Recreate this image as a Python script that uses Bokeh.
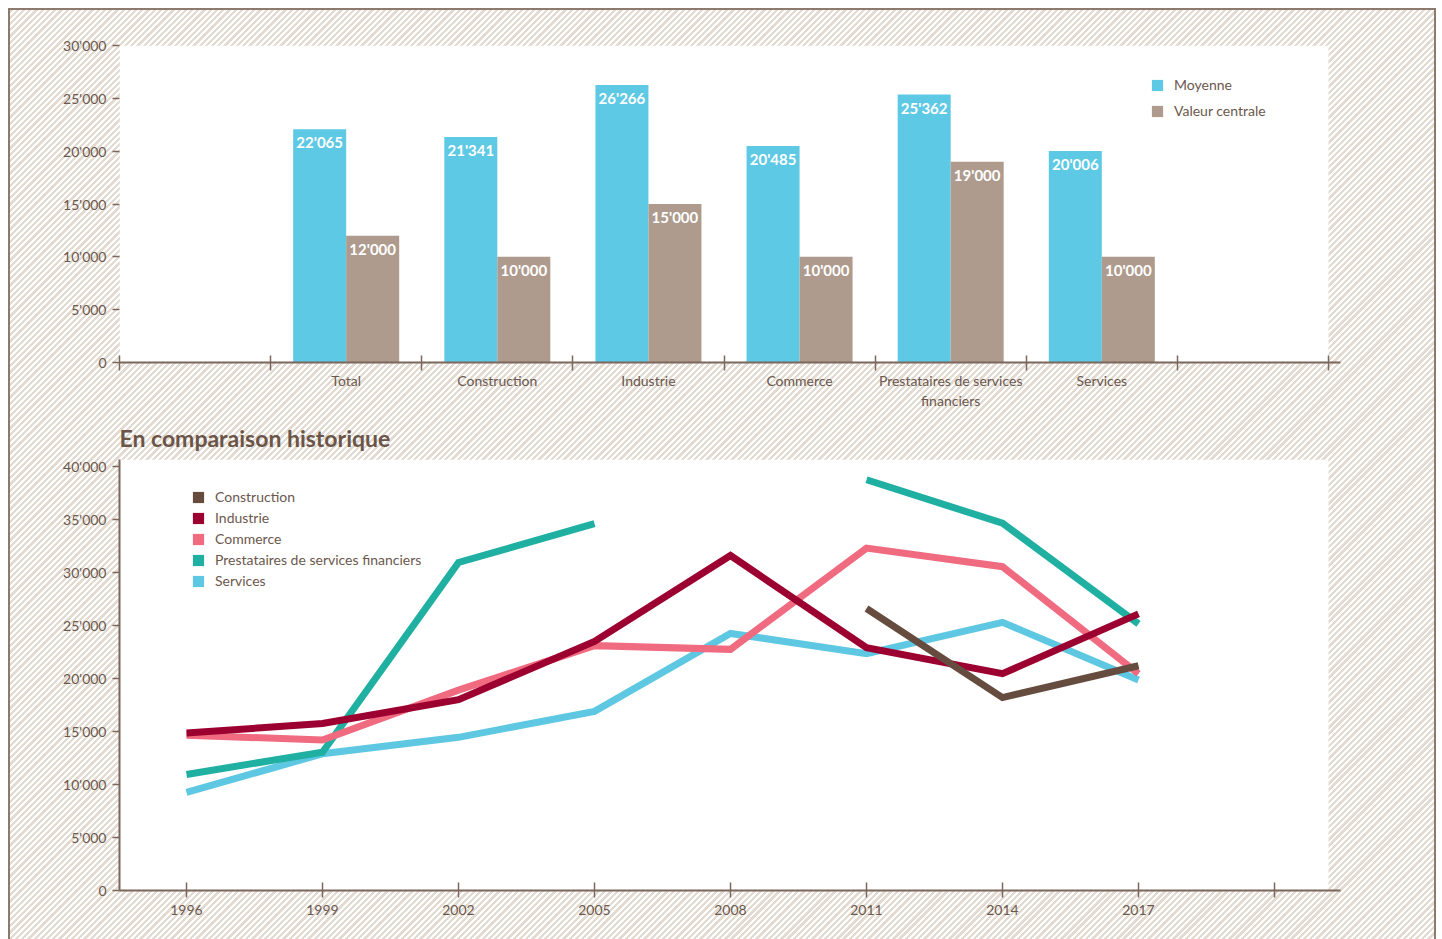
import numpy as np
from bokeh.plotting import figure
from bokeh.models import (FixedTicker, CustomJSTickFormatter, BoxAnnotation, Legend,
                          LegendItem, Range1d)
from bokeh.layouts import column
from bokeh.embed import file_html
from bokeh.resources import INLINE
from bokeh.core.properties import value

# ---------------- data ----------------
categories = ["Total", "Construction", "Industrie", "Commerce",
              "Prestataires de services\nfinanciers", "Services"]
bar_series = ["Moyenne", "Valeur centrale"]
moyenne = [22065, 21341, 26266, 20485, 25362, 20006]
valeur_centrale = [12000, 10000, 15000, 10000, 19000, 10000]
y_ticks_top = [0, 5000, 10000, 15000, 20000, 25000, 30000]

years = [1996, 1999, 2002, 2005, 2008, 2011, 2014, 2017]
x_ticks_bottom = [1996, 1999, 2002, 2005, 2008, 2011, 2014, 2017, 2020]
y_ticks_bottom = [0, 5000, 10000, 15000, 20000, 25000, 30000, 35000, 40000]
line_names = ["Construction", "Industrie", "Commerce",
              "Prestataires de services financiers", "Services"]
construction = [np.nan, np.nan, np.nan, np.nan, np.nan, 26600, 18200, 21200]
industrie = [14850, 15750, 18000, 23500, 31600, 22900, 20450, 26100]
commerce = [14650, 14200, 18900, 23100, 22750, 32300, 30550, 20450]
prestataires = [10950, 13050, 30950, 34600, np.nan, 38750, 34650, 25150]
services = [9250, 12900, 14450, 16900, 24250, 22350, 25300, 19850]

# ---------------- style ----------------
FONT = "Lato"
TXT = "#6b584d"
AXIS = "#7b675c"
BLUE = "#5ec9e4"
TAUPE = "#ae9b8d"
LINE_COLORS = ["#654c3e", "#9b0030", "#f06a80", "#1fb0a2", "#5ec8e3"]
HATCH = ("repeating-linear-gradient(135deg, #e3dad2 0px, #e3dad2 2.3px, "
         "#ffffff 2.3px, #ffffff 4.4px)")

fmt = CustomJSTickFormatter(code="return Math.round(tick).toString().replace(/\\B(?=(\\d{3})+(?!\\d))/g, \"'\");")

FRAME_W = 1221  # both frames are aligned by the column layout


def base_style(p):
    p.border_fill_alpha = 0
    p.background_fill_alpha = 0
    p.outline_line_color = None
    p.xgrid.visible = False
    p.ygrid.visible = False
    for ax in (p.xaxis[0], p.yaxis[0]):
        ax.axis_line_color = AXIS
        ax.axis_line_width = 2
        ax.major_tick_line_color = AXIS
        ax.major_tick_line_width = 1.5
        ax.minor_tick_line_color = AXIS
        ax.minor_tick_line_width = 1.5
        ax.major_label_text_font = FONT
        ax.major_label_text_font_size = "14px"
        ax.major_label_text_color = TXT


# ---------------- top: bar chart ----------------
n_slots = len(categories) + 2
slot_px = 151.125
p1 = figure(width=1424, height=402, output_backend="svg", toolbar_location=None,
            title=None, x_range=Range1d(0, FRAME_W / slot_px), y_range=Range1d(0, 30000),
            min_border_left=109, min_border_right=1424 - 109 - FRAME_W,
            min_border_top=35, min_border_bottom=50)
base_style(p1)
p1.add_layout(BoxAnnotation(right=n_slots, fill_color="white", fill_alpha=1,
                            line_color=None, level="underlay"))

centers = [i + 1.5 for i in range(len(categories))]
bw = 53 / slot_px
x_moy = [c - bw / 2 for c in centers]
x_med = [c + bw / 2 for c in centers]
r_moy = p1.vbar(x=x_moy, top=moyenne, width=bw, fill_color=BLUE, line_color=None)
r_med = p1.vbar(x=x_med, top=valeur_centrale, width=bw, fill_color=TAUPE, line_color=None)
for xs, vals in ((x_moy, moyenne), (x_med, valeur_centrale)):
    p1.text(x=xs, y=vals, text=[f"{v:,}".replace(",", "'") for v in vals],
            text_font=value(FONT), text_font_style="bold", text_font_size="15px",
            text_color="white", text_align="center", text_baseline="middle", y_offset=13)

xa = p1.xaxis[0]
xa.ticker = FixedTicker(ticks=centers, minor_ticks=list(range(n_slots + 1)))
xa.major_label_overrides = {c: name for c, name in zip(centers, categories)}
xa.major_tick_in = 0
xa.major_tick_out = 0
xa.minor_tick_in = 7
xa.minor_tick_out = 8
xa.major_label_standoff = 1

ya = p1.yaxis[0]
ya.ticker = FixedTicker(ticks=y_ticks_top, minor_ticks=[])
ya.formatter = fmt
ya.axis_line_color = None
ya.major_tick_in = 0
ya.major_tick_out = 7
ya.major_label_standoff = 6

leg1 = Legend(items=[LegendItem(label=bar_series[0], renderers=[r_moy]),
                     LegendItem(label=bar_series[1], renderers=[r_med])],
              location=(1031, 243), glyph_width=14, glyph_height=14, label_height=14,
              label_standoff=10, spacing=9, padding=0, margin=0,
              border_line_color=None, background_fill_alpha=0,
              label_text_font=FONT, label_text_font_size="14px", label_text_color=TXT)
p1.add_layout(leg1, "center")

# ---------------- bottom: line chart ----------------
yr_px = 136 / 3
x0 = 1996 - 67 / yr_px
p2 = figure(width=1424, height=527, output_backend="svg", toolbar_location=None,
            title="En comparaison historique",
            x_range=Range1d(x0, x0 + FRAME_W / yr_px), y_range=Range1d(0, 40660),
            min_border_left=109, min_border_right=1424 - 109 - FRAME_W,
            min_border_top=47, min_border_bottom=49)
base_style(p2)
p2.title.text_font = FONT
p2.title.text_font_size = "23px"
p2.title.text_font_style = "bold"
p2.title.text_color = "#6b5548"
p2.title.align = "left"
p2.title.standoff = 16
p2.add_layout(BoxAnnotation(right=x0 + 1209 / yr_px, fill_color="white", fill_alpha=1,
                            line_color=None, level="underlay"))

series = [construction, industrie, commerce, prestataires, services]
draw_order = [4, 3, 2, 1, 0]
for i in draw_order:
    p2.line(x=years, y=series[i], line_color=LINE_COLORS[i], line_width=7,
            line_join="miter", line_cap="butt")

items = []
for name, col in zip(line_names, LINE_COLORS):
    r = p2.quad(left=[np.nan], right=[np.nan], top=[np.nan], bottom=[np.nan],
                fill_color=col, line_color=None)
    items.append(LegendItem(label=name, renderers=[r]))
leg2 = Legend(items=items, location=(72, 301), glyph_width=14, glyph_height=14, label_height=14,
              label_standoff=10, spacing=4, padding=0, margin=0,
              border_line_color=None, background_fill_alpha=0,
              label_text_font=FONT, label_text_font_size="14px", label_text_color=TXT)
p2.add_layout(leg2, "center")

xb = p2.xaxis[0]
xb.ticker = FixedTicker(ticks=x_ticks_bottom, minor_ticks=[])
xb.major_label_overrides = {x_ticks_bottom[-1]: ""}
xb.major_tick_in = 8
xb.major_tick_out = 7
xb.major_label_standoff = 7

yb = p2.yaxis[0]
yb.ticker = FixedTicker(ticks=y_ticks_bottom, minor_ticks=[])
yb.formatter = fmt
yb.major_tick_in = 0
yb.major_tick_out = 7
yb.major_label_standoff = 6

layout = column(p1, p2, spacing=0, margin=(8, 0, 0, 8),
                styles={"border": "2px solid #8c7a6e", "border-bottom": "none",
                        "background": HATCH})

open("out.html", "w").write(file_html(layout, INLINE))
